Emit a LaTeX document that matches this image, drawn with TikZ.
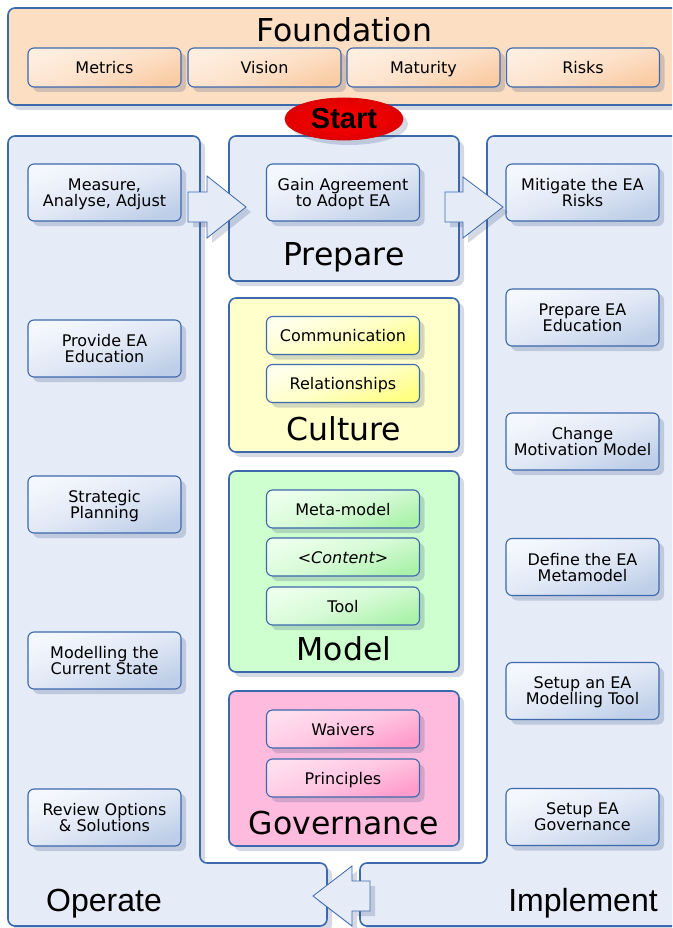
\documentclass[tikz,border=0pt]{standalone}
\usepackage{fontspec}
\setmainfont{DejaVu Sans}
\newfontfamily\arialfont{Liberation Sans}
\usetikzlibrary{shapes.geometric,shadows}

\definecolor{edgeblue}{RGB}{60,104,172}
\definecolor{colfill}{RGB}{229,236,247}
\definecolor{shadowc}{RGB}{60,80,130}
\definecolor{peachfill}{RGB}{252,222,194}
\definecolor{yellowfill}{RGB}{255,255,204}
\definecolor{greenfill}{RGB}{206,255,206}
\definecolor{pinkfill}{RGB}{255,187,221}
\definecolor{blueA}{RGB}{244,247,253}
\definecolor{blueB}{RGB}{190,206,232}
\definecolor{peachA}{RGB}{254,238,224}
\definecolor{peachB}{RGB}{250,204,164}
\definecolor{yellowA}{RGB}{255,255,236}
\definecolor{yellowB}{RGB}{255,255,130}
\definecolor{greenA}{RGB}{236,255,236}
\definecolor{greenB}{RGB}{172,242,172}
\definecolor{pinkA}{RGB}{255,222,238}
\definecolor{pinkB}{RGB}{255,156,204}

\tikzset{
  shade box/.style={drop shadow={shadow xshift=5pt,shadow yshift=-5pt,
    fill=shadowc,opacity=0.22}},
  panel/.style={draw=edgeblue,line width=1.6pt,rounded corners=7pt,shade box},
  item/.style={draw=edgeblue,line width=1.1pt,rounded corners=6pt,
    minimum width=153pt,minimum height=57pt,inner sep=1pt,align=center,
    font=\fontsize{16}{16}\selectfont,shade box},
  oneline/.style={item,minimum height=38pt,text height=17.5pt,text depth=4.8pt},
  gradient/.style n args={2}{top color=#1,bottom color=#2,
    middle color=#1!65!#2,shading angle=20},
  blueitem/.style={item,text depth=0pt,gradient={blueA}{blueB}},
  peachitem/.style={oneline,minimum height=39pt,gradient={peachA}{peachB}},
  yellowitem/.style={oneline,gradient={yellowA}{yellowB}},
  greenitem/.style={oneline,gradient={greenA}{greenB}},
  pinkitem/.style={oneline,gradient={pinkA}{pinkB}},
  biglabel/.style={font=\fontsize{31.5}{34}\selectfont,inner sep=0pt,anchor=base},
  collabel/.style={font=\arialfont\fontsize{32}{34}\selectfont,inner sep=0pt,
    anchor=base},
  blockarrow/.style={draw=edgeblue,line width=0.8pt,fill=colfill,shade box}
}

\begin{document}
\begin{tikzpicture}[x=1pt,y=-1pt]
  \useasboundingbox (0,0) rectangle (672,928);
  \clip (0,0) rectangle (672,928);

  % foundation
  \node[panel,fill=peachfill,minimum width=680pt,minimum height=97pt]
    (found) at (348,56.5) {};
  \node[biglabel] (foundlbl) at (344,42) {Foundation};
  \node[peachitem] (metrics) at (104.5,67.5) {Metrics};
  \node[peachitem] (vision) at (264.5,67.5) {Vision};
  \node[peachitem] (maturity) at (423.5,67.5) {Maturity};
  \node[peachitem] (risks) at (583,67.5) {Risks};

  % operate and implement columns
  \path[panel,fill=colfill] (8,136) -- (200,136) -- (200,863) -- (327,863)
    -- (327,926) -- (8,926) -- cycle;
  \path[panel,fill=colfill] (487,136) -- (690,136) -- (690,926)
    -- (360,926) -- (360,863) -- (487,863) -- cycle;
  \node[collabel] (operlbl) at (104,911) {Operate};
  \node[collabel] (impllbl) at (583,911) {Implement};

  \node[blueitem] (measure) at (104.5,192.5) {Measure,\\Analyse, Adjust};
  \node[blueitem] (educate) at (104.5,348.5) {Provide EA\\Education};
  \node[blueitem] (strategy) at (104.5,504.5) {Strategic\\Planning};
  \node[blueitem] (current) at (104.5,660.5) {Modelling the\\Current State};
  \node[blueitem] (review) at (104.5,817.5) {Review Options\\\& Solutions};

  \node[blueitem] (mitigate) at (582.5,192.5) {Mitigate the EA\\Risks};
  \node[blueitem] (prepedu) at (582.5,317.5) {Prepare EA\\Education};
  \node[blueitem] (motive) at (582.5,441.5) {Change\\Motivation Model};
  \node[blueitem] (metamod) at (582.5,567) {Define the EA\\Metamodel};
  \node[blueitem] (modtool) at (582.5,691) {Setup an EA\\Modelling Tool};
  \node[blueitem] (setupgov) at (582.5,817) {Setup EA\\Governance};

  % middle panels
  \node[panel,fill=colfill,minimum width=230pt,minimum height=145pt]
    (prep) at (344,208.5) {};
  \node[blueitem] (gain) at (343,192.5) {Gain Agreement\\to Adopt EA};
  \node[biglabel] (preplbl) at (344,265) {Prepare};

  \node[panel,fill=yellowfill,minimum width=230pt,minimum height=154pt]
    (culture) at (344,375) {};
  \node[yellowitem] (comm) at (343,335.5) {Communication};
  \node[yellowitem] (relation) at (343,383.5) {Relationships};
  \node[biglabel] (culturelbl) at (344,440) {Culture};

  \node[panel,fill=greenfill,minimum width=230pt,minimum height=201pt]
    (model) at (344,571.5) {};
  \node[greenitem] (metamodel) at (343,509) {Meta-model};
  \node[greenitem] (content) at (343,557) {\textit{<Content>}};
  \node[greenitem] (tool) at (343,606) {Tool};
  \node[biglabel] (modellbl) at (344,660) {Model};

  \node[panel,fill=pinkfill,minimum width=230pt,minimum height=155pt]
    (gov) at (344,768.5) {};
  \node[pinkitem] (waivers) at (343,729) {Waivers};
  \node[pinkitem] (principles) at (343,778) {Principles};
  \node[biglabel] (govlbl) at (344,834) {Governance};

  % block arrows
  \path[blockarrow] (188,192) -- (207,192) -- (207,176) -- (246,207)
    -- (207,238) -- (207,222) -- (188,222) -- cycle;
  \path[blockarrow] (445,192) -- (463,192) -- (463,177) -- (503,207)
    -- (463,238) -- (463,222) -- (445,222) -- cycle;
  \path[blockarrow] (370,881) -- (352,881) -- (352,866) -- (313,896)
    -- (352,926) -- (352,911) -- (370,911) -- cycle;

  % start
  \node[ellipse,draw=red!85!black,line width=0.8pt,inner color=red,
    outer color=red!88!black,minimum width=118pt,minimum height=42pt,
    inner sep=0pt,shade box,font=\arialfont\bfseries\fontsize{29}{29}\selectfont]
    (start) at (344,119) {Start};
\end{tikzpicture}
\end{document}
